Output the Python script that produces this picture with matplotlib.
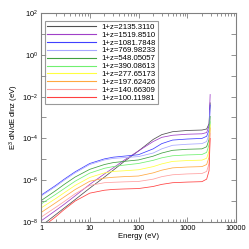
import matplotlib
matplotlib.use("Agg")
import matplotlib.pyplot as plt
import numpy as np
from matplotlib.ticker import FixedLocator, FixedFormatter, LogLocator, NullLocator, NullFormatter

plt.rcParams['font.family'] = ['Liberation Sans', 'DejaVu Sans']
plt.rcParams['mathtext.fontset'] = 'custom'
plt.rcParams['mathtext.rm'] = 'Liberation Sans'
plt.rcParams['mathtext.it'] = 'Liberation Sans'

energy = [1, 2, 3, 5, 10, 20, 30, 50, 100, 200, 300, 500, 1000, 2000, 2500, 2800, 2950]

labels = ["1+z=2135.3110", "1+z=1519.8510", "1+z=1081.7848", "1+z=769.98233",
          "1+z=548.05057", "1+z=390.08613", "1+z=277.65173", "1+z=197.62426",
          "1+z=140.66309", "1+z=100.11981"]

colors = ["#505050", "#a040c8", "#4040ff", "#a8a8ff", "#40a040", "#70f070",
          "#ffff40", "#ffa840", "#ffa0a0", "#ff4040"]

# log10 of E^3 dN/dE dlnz
log_z2135 = [-8.2, -7.65, -7.33, -6.93, -6.38, -5.85, -5.53, -5.12, -4.6, -4.05, -3.82, -3.68, -3.62, -3.6, -3.55, -3.3, -2.3]
log_z1519 = [-7.95, -7.45, -7.15, -6.75, -6.2, -5.7, -5.42, -5.05, -4.6, -4.15, -3.95, -3.85, -3.8, -3.78, -3.72, -3.4, -1.9]
log_z1081 = [-6.72, -6.25, -5.95, -5.6, -5.2, -4.98, -4.9, -4.85, -4.78, -4.5, -4.25, -4.08, -4.03, -4.0, -3.9, -3.6, -2.4]
log_z769 = [-6.76, -6.3, -6.0, -5.65, -5.25, -5.03, -4.96, -4.92, -4.87, -4.7, -4.5, -4.33, -4.28, -4.25, -4.15, -3.8, -2.65]
log_z548 = [-6.98, -6.5, -6.2, -5.85, -5.48, -5.25, -5.16, -5.1, -5.03, -4.85, -4.7, -4.57, -4.52, -4.5, -4.4, -4.05, -2.95]
log_z390 = [-7.14, -6.68, -6.4, -6.05, -5.66, -5.43, -5.35, -5.28, -5.2, -5.05, -4.93, -4.83, -4.79, -4.77, -4.67, -4.3, -3.2]
log_z277 = [-7.33, -6.88, -6.6, -6.25, -5.87, -5.65, -5.58, -5.55, -5.5, -5.35, -5.22, -5.1, -5.06, -5.04, -4.95, -4.6, -3.35]
log_z197 = [-7.55, -7.08, -6.8, -6.45, -6.05, -5.9, -5.86, -5.83, -5.8, -5.65, -5.52, -5.41, -5.37, -5.35, -5.25, -4.9, -3.5]
log_z140 = [-7.77, -7.3, -7.02, -6.65, -6.25, -6.12, -6.1, -6.08, -6.06, -5.95, -5.83, -5.74, -5.7, -5.68, -5.58, -5.2, -3.75]
log_z100 = [-8.3, -7.75, -7.4, -7.0, -6.62, -6.48, -6.44, -6.42, -6.4, -6.3, -6.2, -6.12, -6.09, -6.07, -5.95, -5.55, -4.0]

series = [log_z2135, log_z1519, log_z1081, log_z769, log_z548,
          log_z390, log_z277, log_z197, log_z140, log_z100]

ytick_vals = [1e-8, 1e-7, 1e-6, 1e-5, 1e-4, 1e-3, 1e-2, 1e-1, 1e0, 1e1, 1e2]
ytick_labels = ["$10^{-8}$", "", "$10^{-6}$", "", "$10^{-4}$", "", "$10^{-2}$", "", "$10^{0}$", "", "$10^{2}$"]
xtick_vals = [1, 10, 100, 1000, 10000]
xtick_labels = ["1", "10", "100", "1000", "10000"]

fig = plt.figure(figsize=(2.49, 2.49), dpi=100)
ax = fig.add_axes([41/249, 1-222/249, 195/249, 209/249])

for vals, c, lab in zip(series, colors, labels):
    ax.plot(energy, 10.0**np.array(vals), color=c, lw=0.55, label=lab)

ax.set_xscale('log')
ax.set_yscale('log')
ax.set_xlim(1, 10000)
ax.set_ylim(1e-8, 1e2)

ax.yaxis.set_major_locator(FixedLocator(ytick_vals))
ax.yaxis.set_major_formatter(FixedFormatter(ytick_labels))
ax.yaxis.set_minor_locator(NullLocator())
ax.xaxis.set_major_locator(FixedLocator(xtick_vals))
ax.xaxis.set_major_formatter(FixedFormatter(xtick_labels))
ax.xaxis.set_minor_locator(LogLocator(base=10, subs=np.arange(2, 10)))
ax.xaxis.set_minor_formatter(NullFormatter())

for s in ax.spines.values():
    s.set_color('#808080')
    s.set_linewidth(0.8)
ax.tick_params(which='both', direction='in', top=True, right=True, color='#808080',
               labelsize=5.3, width=0.6, pad=2)
ax.tick_params(which='major', length=3.5)
ax.tick_params(which='minor', length=2)

ax.set_xlabel("Energy (eV)", fontsize=5.5, labelpad=1)
ax.set_ylabel("E$^3$ dN/dE dlnz (eV)", fontsize=5.5, labelpad=1)

leg = ax.legend(loc='upper left', bbox_to_anchor=(0.02, 0.962), fontsize=5.6,
                frameon=True, fancybox=False, handlelength=6.3, handletextpad=0.6,
                labelspacing=0.06, borderpad=0.3, borderaxespad=0)
leg.get_frame().set_edgecolor('#808080')
leg.get_frame().set_linewidth(0.8)
for line in leg.get_lines():
    line.set_linewidth(0.8)

fig.savefig("out.png", dpi=100)
